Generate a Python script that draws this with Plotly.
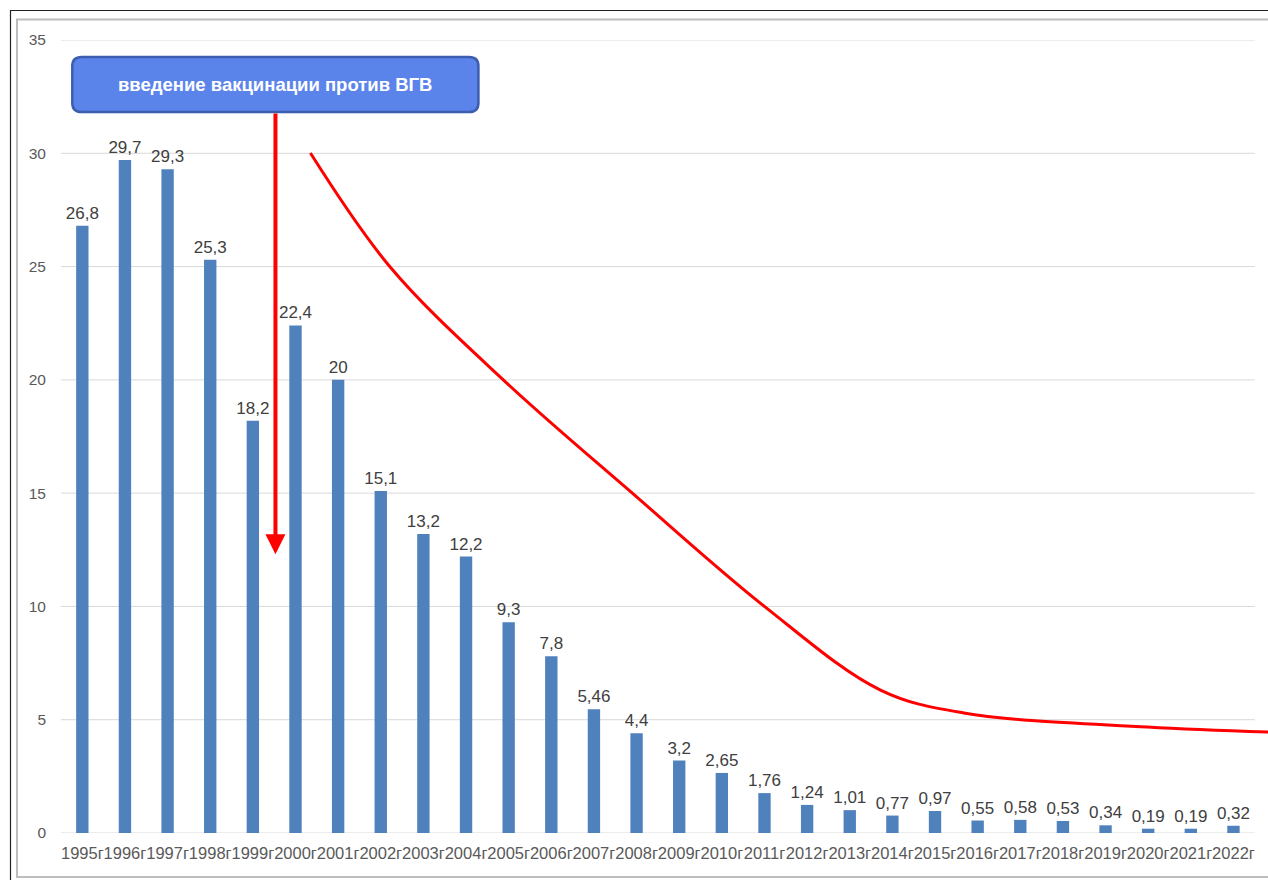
import plotly.graph_objects as go

# Incidence per 100 000 population, 1995-2022
years = [1995, 1996, 1997, 1998, 1999, 2000, 2001, 2002, 2003, 2004, 2005, 2006, 2007,
         2008, 2009, 2010, 2011, 2012, 2013, 2014, 2015, 2016, 2017, 2018, 2019, 2020,
         2021, 2022]
rates = [26.8, 29.7, 29.3, 25.3, 18.2, 22.4, 20, 15.1, 13.2, 12.2, 9.3, 7.8, 5.46,
         4.4, 3.2, 2.65, 1.76, 1.24, 1.01, 0.77, 0.97, 0.55, 0.58, 0.53, 0.34, 0.19,
         0.19, 0.32]
year_labels = [f"{y}г" for y in years]

# Hand-drawn trend curve (x in category index units)
trend_x = [5.35, 7.22, 9.88, 12.90, 16.02, 18.72, 20.67, 24.98, 27.82]
trend_y = [30.01, 24.98, 19.99, 15.00, 9.97, 6.31, 5.30, 4.68, 4.46]

y_ticks = [0, 5, 10, 15, 20, 25, 30, 35]

W, H = 1268, 880
ML, MR, MT, MB = 61, 0, 40, 47
X_LO, X_GRID_HI, X_HI = -0.5, 27.5, 27.81
idx = list(range(len(years)))
FONT = "Liberation Sans, Arial"


def fmt(v):
    return f"{v:g}".replace(".", ",")


fig = go.Figure()
fig.add_trace(go.Bar(
    x=idx, y=rates, width=0.29,
    marker=dict(color="#4F81BD", line=dict(width=0)),
    text=[fmt(v) for v in rates], textposition="outside", constraintext="none",
    textfont=dict(family=FONT, size=17, color="#404040"),
    cliponaxis=False, showlegend=False,
))
fig.add_trace(go.Scatter(
    x=trend_x, y=trend_y, mode="lines",
    line=dict(color="#FF0000", width=3, shape="spline", smoothing=1.0),
    showlegend=False, hoverinfo="skip",
))

# Horizontal gridlines, ending at the last category slot
for t in y_ticks:
    fig.add_shape(type="line", xref="x", yref="y", x0=X_LO, x1=X_GRID_HI, y0=t, y1=t,
                  line=dict(color="#D9D9D9", width=1), layer="below")

# Callout box (rounded) in data units
bx0, bx1, by0, by1 = -0.235, 9.29, 31.82, 34.25
rx, ry = 0.22, 0.4
path = (f"M {bx0+rx},{by0} L {bx1-rx},{by0} Q {bx1},{by0} {bx1},{by0+ry} "
        f"L {bx1},{by1-ry} Q {bx1},{by1} {bx1-rx},{by1} L {bx0+rx},{by1} "
        f"Q {bx0},{by1} {bx0},{by1-ry} L {bx0},{by0+ry} Q {bx0},{by0} {bx0+rx},{by0} Z")
fig.add_shape(type="path", path=path, xref="x", yref="y",
              fillcolor="#5B84EB", line=dict(color="#3D5DAE", width=2.5), layer="above")
fig.add_annotation(x=(bx0 + bx1) / 2, y=(by0 + by1) / 2, xref="x", yref="y",
                   text="<b>введение вакцинации против ВГВ</b>", showarrow=False,
                   font=dict(family=FONT, size=18.5, color="white"))

# Arrow pointing to the vaccination start
fig.add_annotation(x=4.53, y=12.3, ax=4.53, ay=by0, xref="x", yref="y",
                   axref="x", ayref="y", text="", showarrow=True,
                   arrowhead=2, arrowsize=1.0, arrowwidth=4, arrowcolor="#FF0000")

# Frame around the chart
pw = W - ML - MR
ph = H - MT - MB


def px(p):
    return (p - ML) / pw


def py(p):
    return 1 - (p - MT) / ph


fig.add_shape(type="rect", xref="paper", yref="paper",
              x0=px(10.5), x1=px(W + 5), y0=py(10.5), y1=py(H + 5),
              line=dict(color="#222222", width=1.2), layer="below")
fig.add_shape(type="rect", xref="paper", yref="paper",
              x0=px(17), x1=px(W + 5), y0=py(19.5), y1=py(877),
              line=dict(color="#BDBDBD", width=2), layer="below")

fig.update_layout(
    width=W, height=H,
    margin=dict(l=ML, r=MR, t=MT, b=MB),
    paper_bgcolor="white", plot_bgcolor="white",
    font=dict(family=FONT, size=15, color="#595959"),
    xaxis=dict(range=[X_LO, X_HI], tickmode="array", tickvals=idx, ticktext=year_labels,
               tickangle=0, showgrid=False, zeroline=False, showline=False, ticks="",
               tickfont=dict(size=16.5, color="#595959"), ticklabelstandoff=8),
    yaxis=dict(range=[0, 35], tickmode="array", tickvals=y_ticks,
               showgrid=False, zeroline=False, showline=False, ticks="",
               tickfont=dict(size=15.5, color="#595959"), ticklabelstandoff=14),
)

fig.write_html("out.html")
